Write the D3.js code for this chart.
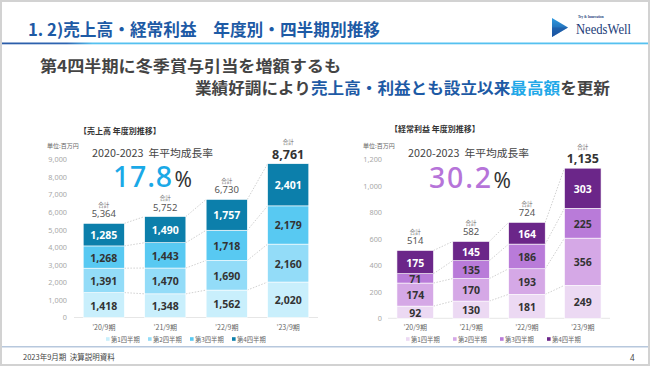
<!DOCTYPE html>
<html><head><meta charset="utf-8">
<script src="https://cdn.jsdelivr.net/npm/d3@7/dist/d3.min.js"></script>
<style>
html,body{margin:0;padding:0;background:#d2d2d2;}
svg{display:block;font-family:"Noto Sans CJK JP","Noto Sans",sans-serif;}
</style></head>
<body>
<svg id="c" width="650" height="366"></svg>
<script>
// ---- data ----
const categories = ["’20/9期", "’21/9期", "’22/9期", "’23/9期"];
const quarters = ["第1四半期", "第2四半期", "第3四半期", "第4四半期"];

const salesQ1 = [1418, 1348, 1562, 2020];
const salesQ2 = [1391, 1470, 1690, 2160];
const salesQ3 = [1268, 1443, 1718, 2179];
const salesQ4 = [1285, 1490, 1757, 2401];
const salesTotal = [5364, 5752, 6730, 8761];
const salesTicks = [0, 1000, 2000, 3000, 4000, 5000, 6000, 7000, 8000, 9000];
const salesCAGR = "17.8";

const profitQ1 = [92, 130, 181, 249];
const profitQ2 = [174, 170, 193, 356];
const profitQ3 = [71, 135, 186, 225];
const profitQ4 = [175, 145, 164, 303];
const profitTotal = [514, 582, 724, 1135];
const profitTicks = [0, 200, 400, 600, 800, 1000, 1200];
const profitCAGR = "30.2";

const salesColors = ["#c9effc", "#93dcf8", "#58c9f2", "#0c7fab"];
const profitColors = ["#ecd9f3", "#d5a8e6", "#b97bd9", "#6b2689"];

const JP = '"Noto Sans CJK JP", "Noto Sans", sans-serif';
const LAT = '"Noto Sans", "Noto Sans CJK JP", sans-serif';
const SERIF = '"Liberation Serif", "DejaVu Serif", serif';

// ---- slide frame ----
const svg = d3.select("#c");
svg.append("rect").attr("x", 2).attr("y", 2).attr("width", 646).attr("height", 362).attr("fill", "#fff");

// header
const defs = svg.append("defs");
const lg = defs.append("linearGradient").attr("id", "hl").attr("x1", "0").attr("x2", "1").attr("y1", "0").attr("y2", "0");
lg.append("stop").attr("offset", "0").attr("stop-color", "#2b5ca8");
lg.append("stop").attr("offset", "0.10").attr("stop-color", "#2e66b3");
lg.append("stop").attr("offset", "0.14").attr("stop-color", "#55c1f0");
lg.append("stop").attr("offset", "1").attr("stop-color", "#55c1f0");
svg.append("rect").attr("x", 2).attr("y", 42.5).attr("width", 646).attr("height", 1.8).attr("fill", "url(#hl)");

svg.append("text").attr("x", 28).attr("y", 36).attr("font-size", 16.5).attr("font-weight", 700)
  .style("font-family", JP)
  .attr("fill", "#1d5aa5").attr("textLength", 352).attr("lengthAdjust", "spacingAndGlyphs")
  .text("1. 2)売上高・経常利益　年度別・四半期別推移");

// logo
const tg = defs.append("linearGradient").attr("id", "tri").attr("x1", "0").attr("x2", "0").attr("y1", "0").attr("y2", "1");
tg.append("stop").attr("offset", "0").attr("stop-color", "#2f9be0");
tg.append("stop").attr("offset", "1").attr("stop-color", "#1a4f9c");
svg.append("path").attr("d", "M552,18 L568,27.5 L552,37 Z").attr("fill", "url(#tri)");
svg.append("path").attr("d", "M552,27.5 L568,27.5 L552,37 Z").attr("fill", "#1c56a3").attr("opacity", 0.6);
svg.append("text").attr("x", 578).attr("y", 17.5).attr("font-size", 3.4).attr("fill", "#1c3f7a")
  .style("font-family", SERIF).attr("font-weight", 700).text("Try & Innovation");
svg.append("text").attr("x", 576).attr("y", 33.5).attr("font-size", 14.5).attr("fill", "#1b3c78")
  .style("font-family", SERIF).attr("textLength", 55).attr("lengthAdjust", "spacingAndGlyphs").text("NeedsWell");

// subtitle
svg.append("text").attr("x", 40).attr("y", 71.5).attr("font-size", 15.5).attr("font-weight", 700)
  .style("font-family", JP)
  .attr("fill", "#444").attr("textLength", 301).attr("lengthAdjust", "spacingAndGlyphs")
  .text("第4四半期に冬季賞与引当を増額するも");
const st2 = svg.append("text").attr("x", 195).attr("y", 93.5).attr("font-size", 15.5).attr("font-weight", 700)
  .style("font-family", JP)
  .attr("textLength", 415).attr("lengthAdjust", "spacingAndGlyphs");
st2.append("tspan").attr("fill", "#444").text("業績好調により");
st2.append("tspan").attr("fill", "#1d5aa5").text("売上高・利益とも設立以来");
st2.append("tspan").attr("fill", "#22a8e8").text("最高額");
st2.append("tspan").attr("fill", "#444").text("を更新");

// footer
svg.append("rect").attr("x", 2).attr("y", 346).attr("width", 646).attr("height", 1.5).attr("fill", "#b7c8dd");
svg.append("text").attr("x", 23).attr("y", 360).attr("font-size", 7.5).attr("fill", "#444").style("font-family", JP).text("2023年9月期\u00a0\u00a0決算説明資料");
svg.append("text").attr("x", 630).attr("y", 360.5).attr("font-size", 8).attr("fill", "#444").style("font-family", LAT).text("4");

// ---- chart builder ----
function drawChart(cfg) {
  const g = svg.append("g");
  const y = d3.scaleLinear().domain([0, cfg.ticks[cfg.ticks.length - 1]]).range([cfg.y0, cfg.yTop]);
  const x = d3.scaleBand().domain(categories).range(cfg.xr).paddingInner(cfg.pi).paddingOuter(cfg.po);

  // title
  g.append("text").attr("x", cfg.titleX).attr("y", cfg.titleY).attr("font-size", 8).attr("font-weight", 700)
    .style("font-family", JP)
    .attr("fill", "#333").attr("dominant-baseline", "central").text(cfg.title);
  g.append("text").attr("x", cfg.unitX).attr("y", 145).attr("font-size", 6).attr("fill", "#666")
    .style("font-family", JP)
    .attr("dominant-baseline", "central").text("単位:百万円");

  // y axis
  const ax = g.append("g").attr("transform", `translate(${cfg.axisX},0)`)
    .call(d3.axisLeft(y).tickValues(cfg.ticks).tickSize(0).tickPadding(3).tickFormat(d3.format(",")));
  ax.select(".domain").remove();
  ax.selectAll("text").attr("font-size", 7.3).attr("fill", "#a8a8a8").style("font-family", LAT);

  // baseline
  g.append("line").attr("x1", cfg.xr[0]).attr("x2", cfg.xr[1]).attr("y1", y(0)).attr("y2", y(0))
    .attr("stroke", "#e6e6e6").attr("stroke-width", 1);

  const rows = categories.map((c, i) => ({ cat: c, q0: cfg.series[0][i], q1: cfg.series[1][i], q2: cfg.series[2][i], q3: cfg.series[3][i] }));
  const stack = d3.stack().keys(["q0", "q1", "q2", "q3"])(rows);

  // connectors
  stack.forEach(layer => {
    for (let i = 0; i < categories.length - 1; i++) {
      g.append("line")
        .attr("x1", x(categories[i]) + x.bandwidth()).attr("y1", y(layer[i][1]))
        .attr("x2", x(categories[i + 1])).attr("y2", y(layer[i + 1][1]))
        .attr("stroke", "#c4c4c4").attr("stroke-width", 0.8).attr("stroke-dasharray", "1.5,1.5");
    }
  });

  // bars
  stack.forEach((layer, k) => {
    const lgp = g.append("g");
    lgp.selectAll("rect").data(layer).join("rect")
      .attr("x", d => x(d.data.cat)).attr("width", x.bandwidth())
      .attr("y", d => y(d[1])).attr("height", d => y(d[0]) - y(d[1]))
      .attr("fill", cfg.colors[k]).attr("stroke", "#fff").attr("stroke-width", 0.6);
    lgp.selectAll("text").data(layer).join("text")
      .attr("x", d => x(d.data.cat) + x.bandwidth() / 2)
      .attr("y", d => (y(d[0]) + y(d[1])) / 2 + 0.5)
      .attr("text-anchor", "middle").attr("dominant-baseline", "central")
      .style("font-family", LAT).attr("font-weight", 700).attr("font-size", 10.5)
      .attr("fill", k === 3 ? "#fff" : "#333")
      .text(d => d3.format(",")(d[1] - d[0]));
  });

  // totals
  cfg.totals.forEach((t, i) => {
    const top = y(stack[3][i][1]);
    const cx = x(categories[i]) + x.bandwidth() / 2;
    const last = i === categories.length - 1;
    g.append("text").attr("x", cx).attr("y", top - (last ? 21.5 : 18.5)).attr("text-anchor", "middle")
      .style("font-family", JP)
      .attr("dominant-baseline", "central").attr("font-size", 5.5).attr("fill", "#666").text("合計");
    g.append("text").attr("x", cx).attr("y", top - 9.5).attr("text-anchor", "middle")
      .attr("dominant-baseline", "central").style("font-family", LAT)
      .attr("font-size", last ? 12.5 : 9.5).attr("font-weight", last ? 700 : 400)
      .attr("fill", last ? "#333" : "#555").text(d3.format(",")(t));
  });

  // category labels
  categories.forEach(c => {
    g.append("text").attr("x", x(c) + x.bandwidth() / 2).attr("y", 326.5).attr("text-anchor", "middle")
      .style("font-family", JP)
      .attr("dominant-baseline", "central").attr("font-size", 7).attr("fill", "#666").text(c);
  });

  // legend
  quarters.forEach((q, k) => {
    const lx = cfg.legX + k * cfg.legStep;
    g.append("rect").attr("x", lx).attr("y", 337.2).attr("width", 3.6).attr("height", 3.6).attr("fill", cfg.colors[k]);
    g.append("text").attr("x", lx + 5).attr("y", 339.2).attr("dominant-baseline", "central")
      .style("font-family", JP)
      .attr("font-size", 6.3).attr("fill", "#666").text(q);
  });

  // CAGR
  g.append("text").attr("x", cfg.cagrX).attr("y", 156.5).attr("font-size", 10.5).attr("fill", "#444")
    .style("font-family", JP)
    .attr("textLength", 121).attr("lengthAdjust", "spacingAndGlyphs").text("2020-2023\u00a0\u00a0年平均成長率");
  g.append("text").attr("x", cfg.bigX).attr("y", cfg.bigY).style("font-family", LAT).attr("font-size", 28.5)
    .attr("font-weight", 500).attr("fill", cfg.bigColor).attr("textLength", cfg.bigW).attr("lengthAdjust", "spacing")
    .text(cfg.cagr);
  g.append("text").attr("x", cfg.bigX + cfg.bigW + 2.5).attr("y", cfg.bigY).style("font-family", LAT).attr("font-size", 21)
    .attr("fill", "#333").text("%");
}

drawChart({
  title: "【売上高 年度別推移】", titleX: 79, titleY: 130, unitX: 47,
  ticks: salesTicks, y0: 317.5, yTop: 159.5, axisX: 70,
  xr: [74, 318], pi: 0.33, po: 0.15,
  series: [salesQ1, salesQ2, salesQ3, salesQ4], totals: salesTotal, colors: salesColors,
  legX: 106, legStep: 42,
  cagrX: 92, cagr: salesCAGR, bigX: 113, bigW: 59, bigY: 187.2, bigColor: "#1aa9e7"
});

drawChart({
  title: "【経常利益 年度別推移】", titleX: 390, titleY: 128, unitX: 363,
  ticks: profitTicks, y0: 318.3, yTop: 159.3, axisX: 385,
  xr: [388, 610], pi: 0.345, po: 0.16,
  series: [profitQ1, profitQ2, profitQ3, profitQ4], totals: profitTotal, colors: profitColors,
  legX: 406, legStep: 47,
  cagrX: 408, cagr: profitCAGR, bigX: 429, bigW: 62, bigY: 187.5, bigColor: "#b674d9"
});
</script>
</body></html>
